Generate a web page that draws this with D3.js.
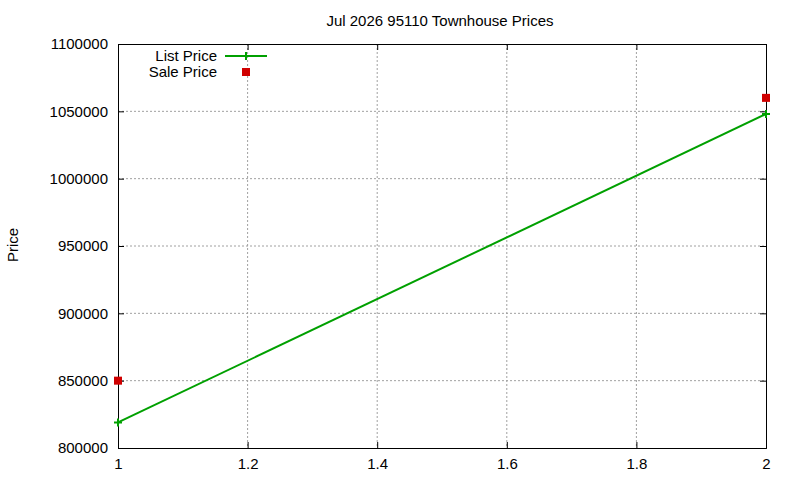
<!DOCTYPE html>
<html lang="en">
<head>
<meta charset="UTF-8">
<script src="https://d3js.org/d3.v7.min.js"></script>
<style>
  body { margin: 0; background: #fff; }
  text { font-family: "Liberation Sans", Arial, sans-serif; }
</style>
</head>
<body>
<div id="chart"></div>
<script>
// data
var xValues = [1, 2];
var listPrice = [819000, 1048000];
var salePrice = [850000, 1060000];
var xTicks = [1, 1.2, 1.4, 1.6, 1.8, 2];
var yTicks = [800000, 850000, 900000, 950000, 1000000, 1050000, 1100000];

var width = 800, height = 480;
var margin = {top: 44, right: 34, bottom: 32, left: 118};

var svg = d3.select("#chart").append("svg")
    .attr("width", width).attr("height", height);

var x = d3.scaleLinear().domain([1, 2]).range([margin.left, width - margin.right]);
var y = d3.scaleLinear().domain([800000, 1100000]).range([height - margin.bottom, margin.top]);

// grid
svg.append("g").selectAll("line").data(xTicks.slice(1, -1)).join("line")
    .attr("x1", d => x(d)).attr("x2", d => x(d))
    .attr("y1", margin.top).attr("y2", height - margin.bottom)
    .attr("stroke", "#a0a0a0").attr("stroke-dasharray", "2,2");
svg.append("g").selectAll("line").data(yTicks.slice(1, -1)).join("line")
    .attr("x1", margin.left).attr("x2", width - margin.right)
    .attr("y1", d => y(d)).attr("y2", d => y(d))
    .attr("stroke", "#a0a0a0").attr("stroke-dasharray", "2,2");

// axes (ticks inward, mirrored)
svg.append("g").attr("transform", `translate(0,${height - margin.bottom})`)
    .call(d3.axisBottom(x).tickValues(xTicks).tickSize(-6).tickPadding(10).tickFormat(d3.format("")))
    .call(g => g.selectAll("text").attr("font-size", 15).attr("fill", "#000"));
svg.append("g").attr("transform", `translate(0,${margin.top})`)
    .call(d3.axisTop(x).tickValues(xTicks).tickSize(-6).tickFormat(""));
svg.append("g").attr("transform", `translate(${margin.left},0)`)
    .call(d3.axisLeft(y).tickValues(yTicks).tickSize(-6).tickPadding(10).tickFormat(d3.format("d")))
    .call(g => g.selectAll("text").attr("font-size", 15).attr("fill", "#000"));
svg.append("g").attr("transform", `translate(${width - margin.right},0)`)
    .call(d3.axisRight(y).tickValues(yTicks).tickSize(-6).tickFormat(""));
svg.selectAll(".domain").attr("stroke", "#000");

// title & label
svg.append("text").attr("x", 440).attr("y", 26).attr("text-anchor", "middle")
    .attr("font-size", 15).text("Jul 2026 95110 Townhouse Prices");
svg.append("text").attr("transform", "translate(18,245) rotate(-90)")
    .attr("text-anchor", "middle").attr("font-size", 15).text("Price");

var green = "#00a000", red = "#d00000";
var plus = d3.symbol().type(d3.symbolCross).size(0);
function cross(g, cx, cy) {
  g.append("path").attr("d", `M${cx-4},${cy}H${cx+4}M${cx},${cy-4}V${cy+4}`)
    .attr("stroke", green).attr("stroke-width", 2);
}

// list price line
var pts = xValues.map((d, i) => [d, listPrice[i]]);
svg.append("path").datum(pts)
    .attr("d", d3.line().x(d => x(d[0])).y(d => y(d[1])))
    .attr("fill", "none").attr("stroke", green).attr("stroke-width", 2);
pts.forEach(d => cross(svg, x(d[0]), y(d[1])));

// sale price points
svg.append("g").selectAll("rect").data(xValues).join("rect")
    .attr("x", (d) => x(d) - 4).attr("y", (d, i) => y(salePrice[i]) - 4)
    .attr("width", 8).attr("height", 8).attr("fill", red);

// legend
svg.append("text").attr("x", 217).attr("y", 61).attr("text-anchor", "end")
    .attr("font-size", 15).text("List Price");
svg.append("line").attr("x1", 225).attr("x2", 267).attr("y1", 56).attr("y2", 56)
    .attr("stroke", green).attr("stroke-width", 2);
cross(svg, 246, 56);
svg.append("text").attr("x", 217).attr("y", 77).attr("text-anchor", "end")
    .attr("font-size", 15).text("Sale Price");
svg.append("rect").attr("x", 242).attr("y", 68).attr("width", 8).attr("height", 8).attr("fill", red);
</script>
</body>
</html>
